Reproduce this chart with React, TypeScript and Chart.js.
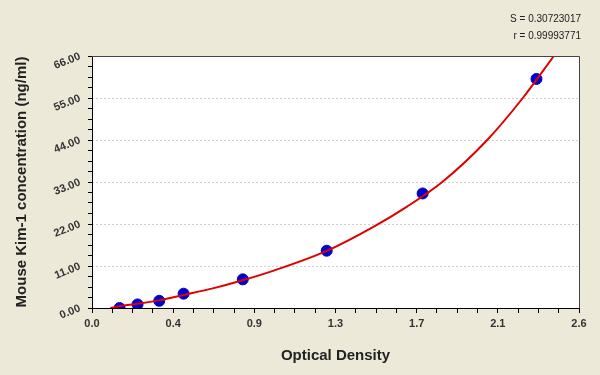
import React, { useEffect, useRef } from "react";
import { Chart, registerables } from "chart.js";

Chart.register(...registerables);

// Standard points (Optical Density vs concentration)
const odValues = [0.147, 0.243, 0.359, 0.489, 0.805, 1.253, 1.765, 2.373];
const concValues = [0, 0.94, 1.88, 3.75, 7.5, 15, 30, 60];

// Fitted curve
const curveOD = [0.098, 0.147, 0.243, 0.359, 0.489, 0.65, 0.8, 0.97, 1.25, 1.5, 1.68, 1.87, 2.11, 2.3, 2.466];
const curveConc = [0, 0.45, 1.1, 2.0, 3.4, 5.2, 7.2, 9.8, 14.9, 21.2, 26.5, 33, 44, 55, 66];

// Axis tick labels (major ticks)
const xTickLabels = ["0.0", "0.4", "0.9", "1.3", "1.7", "2.1", "2.6"];
const yTickLabels = ["0.00", "11.00", "22.00", "33.00", "44.00", "55.00", "66.00"];

const xMax = 2.6;
const yMax = 66;
const minorPerMajor = 4;

const statLines = ["S = 0.30723017", "r = 0.99993771"];

const BG = "#ECE9D8";

function buildTicks(max: number, majors: number) {
  const n = majors * minorPerMajor;
  const out: { value: number; major: boolean }[] = [];
  for (let i = 0; i <= n; i++) out.push({ value: (max * i) / n, major: i % minorPerMajor === 0 });
  return out;
}

const framePlugin = {
  id: "frame",
  beforeDraw(chart: any) {
    const { ctx, chartArea: a } = chart;
    ctx.save();
    ctx.fillStyle = "#ffffff";
    ctx.fillRect(a.left, a.top, a.right - a.left, a.bottom - a.top);
    ctx.restore();
  },
  afterDraw(chart: any) {
    const { ctx, chartArea: a } = chart;
    const l = Math.round(a.left) + 0.5;
    const r = Math.round(a.right) + 0.5;
    const t = Math.round(a.top) + 0.5;
    const b = Math.round(a.bottom) + 0.5;
    ctx.save();
    ctx.lineWidth = 1;
    ctx.strokeStyle = "#444";
    ctx.beginPath();
    ctx.moveTo(l, t);
    ctx.lineTo(r, t);
    ctx.lineTo(r, b);
    ctx.stroke();
    ctx.strokeStyle = "#000";
    ctx.beginPath();
    ctx.moveTo(l, t);
    ctx.lineTo(l, b);
    ctx.lineTo(r, b);
    ctx.stroke();
    ctx.fillStyle = "#222";
    ctx.font = "10px Arial, 'Liberation Sans', sans-serif";
    ctx.textAlign = "right";
    ctx.textBaseline = "middle";
    ctx.fillText(statLines[0], 581, 19);
    ctx.fillText(statLines[1], 581, 36);
    ctx.restore();
  },
};

export default function App() {
  const ref = useRef<HTMLCanvasElement | null>(null);
  useEffect(() => {
    if (!ref.current) return;
    const tickFont = { family: "Arial, 'Liberation Sans', sans-serif", size: 11, weight: "bold" as const };
    const titleFont = { family: "Arial, 'Liberation Sans', sans-serif", size: 15, weight: "bold" as const };
    const chart = new Chart(ref.current, {
      type: "scatter",
      data: {
        datasets: [
          {
            type: "line",
            label: "curve",
            data: curveOD.map((x, i) => ({ x, y: curveConc[i] })),
            borderColor: "#E00000",
            borderWidth: 2,
            pointRadius: 0,
            fill: false,
            cubicInterpolationMode: "monotone",
            order: 0,
          } as any,
          {
            label: "standards",
            data: odValues.map((x, i) => ({ x, y: concValues[i] })),
            backgroundColor: "#0000CC",
            borderColor: "#0000CC",
            pointRadius: 5.5,
            pointHoverRadius: 5.5,
            order: 1,
          },
        ],
      },
      options: {
        responsive: true,
        maintainAspectRatio: false,
        animation: false,
        events: [],
        layout: { padding: { top: 56, right: 21, left: 0, bottom: 0 } },
        plugins: { legend: { display: false }, tooltip: { enabled: false }, title: { display: false } },
        scales: {
          x: {
            type: "linear",
            min: 0,
            max: xMax,
            afterBuildTicks: (s: any) => {
              s.ticks = buildTicks(xMax, xTickLabels.length - 1);
            },
            afterFit: (s: any) => {
              s.height = 67;
            },
            ticks: {
              autoSkip: false,
              maxRotation: 0,
              minRotation: 0,
              padding: 4,
              color: "#333",
              font: tickFont,
              callback: (v: any, i: number) => (i % minorPerMajor === 0 ? xTickLabels[i / minorPerMajor] : ""),
            },
            grid: { drawOnChartArea: false, tickLength: 5, tickColor: "#000", color: "#000" },
            border: { display: false },
            title: { display: true, text: "Optical Density", color: "#222", font: titleFont, padding: { top: 0, bottom: 10 } },
          },
          y: {
            type: "linear",
            min: 0,
            max: yMax,
            afterBuildTicks: (s: any) => {
              s.ticks = buildTicks(yMax, yTickLabels.length - 1);
            },
            afterFit: (s: any) => {
              s.width = 92;
            },
            ticks: {
              autoSkip: false,
              minRotation: 22,
              maxRotation: 22,
              padding: 8,
              color: "#333",
              font: tickFont,
              callback: (v: any, i: number) => (i % minorPerMajor === 0 ? yTickLabels[i / minorPerMajor] : ""),
            },
            grid: {
              drawOnChartArea: true,
              tickLength: 4,
              tickColor: "#000",
              color: (c: any) =>
                c.index % minorPerMajor === 0 && c.index !== 0 && c.index !== (yTickLabels.length - 1) * minorPerMajor
                  ? "#cfcfcf"
                  : "rgba(0,0,0,0)",
              tickBorderDash: [],
            } as any,
            border: { display: false, dash: [2, 2] },
            title: {
              display: true,
              text: "Mouse Kim-1 concentration (ng/ml)",
              color: "#222",
              font: titleFont,
              padding: { top: 13, bottom: 0 },
            },
          },
        },
      },
      plugins: [framePlugin],
    } as any);
    return () => chart.destroy();
  }, []);
  return (
    <div style={{ position: "fixed", left: 0, top: 0, width: 600, height: 375, background: BG }}>
      <canvas ref={ref} />
    </div>
  );
}
